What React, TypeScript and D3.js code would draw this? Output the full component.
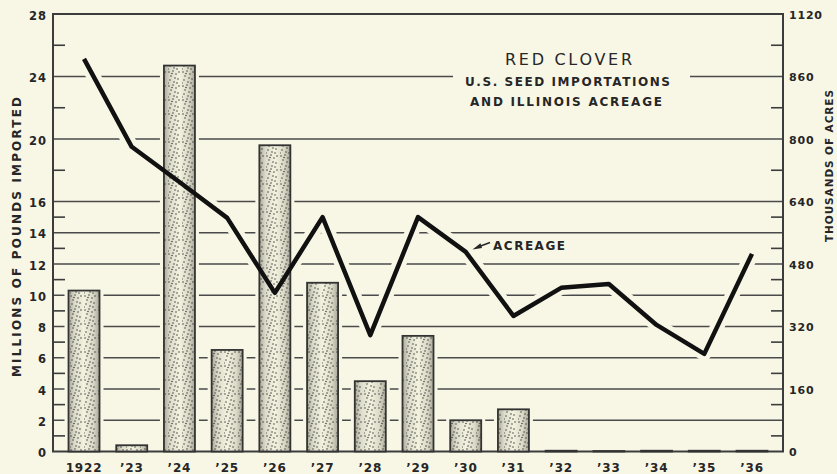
import React from "react";
import * as d3 from "d3";

const years = ["1922", "’23", "’24", "’25", "’26", "’27", "’28", "’29", "’30", "’31", "’32", "’33", "’34", "’35", "’36"];
const importsMlb = [10.3, 0.4, 24.7, 6.5, 19.6, 10.8, 4.5, 7.4, 2.0, 2.7, 0.05, 0.03, 0.05, 0.05, 0.05];
const acreage = [1005, 780, 690, 598, 406, 600, 298, 600, 511, 347, 419, 429, 324, 250, 506];
const leftTickLabels = [0, 2, 4, 6, 8, 10, 12, 14, 16, 20, 24, 28];
const gridValues = [2, 4, 6, 8, 10, 12, 14, 16, 20, 24];
const minorTicks = [1, 3, 5, 7, 9, 11, 13, 15, 18, 22, 26];
const rightTickValues = [0, 160, 320, 480, 640, 800, 960, 1120];
const rightTickLabels = ["0", "160", "320", "480", "640", "800", "860", "1120"];
const titleLines = ["RED CLOVER", "U.S. SEED IMPORTATIONS", "AND ILLINOIS ACREAGE"];

const BG = "#f8f7e6";
const INK = "#262626";
const FONT = "'DejaVu Sans', sans-serif";

// deterministic stipple dot positions within a tile
const dots = [
  [1, 2], [5, 1], [8, 4], [3, 6], [7, 8], [2, 10], [10, 9], [11, 2], [6, 12], [0, 13], [9, 13], [4, 3.5],
];

export default function App() {
  const W = 837, H = 474;
  const left = 53, right = 783, top = 14, bottom = 451.5;
  const x = d3.scalePoint<string>().domain(years).range([left, right]).padding(0.65);
  const y = d3.scaleLinear().domain([0, 28]).range([bottom, top]);
  const yR = d3.scaleLinear().domain([0, 1120]).range([bottom, top]);
  const bw = 31;

  const line = d3
    .line<number>()
    .x((_, i) => x(years[i]) as number)
    .y((d) => yR(d));
  const linePath = line(acreage) || "";

  return (
    <svg width={W} height={H} style={{ display: "block", position: "absolute", left: 0, top: 0, background: BG }}>
      <defs>
        <linearGradient id="barGrad" x1="0" x2="1" y1="0" y2="0">
          <stop offset="0%" stopColor="#aaa999" />
          <stop offset="20%" stopColor="#dddccb" />
          <stop offset="50%" stopColor="#f3f2df" />
          <stop offset="80%" stopColor="#dad9c7" />
          <stop offset="100%" stopColor="#a8a797" />
        </linearGradient>
        <pattern id="stipple" width="14" height="14" patternUnits="userSpaceOnUse">
          {dots.map((d, i) => (
            <circle key={i} cx={d[0]} cy={d[1]} r={0.75} fill="#3a3a3a" />
          ))}
        </pattern>
      </defs>
      <rect x={0} y={0} width={W} height={H} fill={BG} />

      {/* gridlines */}
      {gridValues.map((v) => (
        <line key={"g" + v} x1={left} x2={right} y1={y(v)} y2={y(v)} stroke="#4a4a4a" strokeWidth={1.6} />
      ))}

      {/* title knock-out */}
      <rect x={453} y={44} width={237} height={66} fill={BG} />

      {/* bar halos */}
      {importsMlb.map((v, i) => (
        <rect
          key={"h" + i}
          x={(x(years[i]) as number) - bw / 2}
          y={y(v)}
          width={bw}
          height={bottom - y(v)}
          fill={BG}
          stroke={BG}
          strokeWidth={8}
        />
      ))}

      {/* line halo */}
      <path d={linePath} fill="none" stroke={BG} strokeWidth={14} strokeLinejoin="round" />

      {/* frame */}
      <rect x={left} y={top} width={right - left} height={bottom - top} fill="none" stroke="#3c3c3c" strokeWidth={2} />

      {/* minor ticks */}
      {minorTicks.map((v) => (
        <g key={"m" + v}>
          <line x1={left} x2={left + 12} y1={y(v)} y2={y(v)} stroke="#3c3c3c" strokeWidth={1.6} />
          <line x1={right - 12} x2={right} y1={y(v)} y2={y(v)} stroke="#3c3c3c" strokeWidth={1.6} />
        </g>
      ))}

      {/* bars */}
      {importsMlb.map((v, i) => {
        const bx = (x(years[i]) as number) - bw / 2;
        const by = y(v);
        const bh = bottom - by;
        return (
          <g key={"b" + i}>
            <rect x={bx} y={by} width={bw} height={bh} fill="url(#barGrad)" />
            <rect x={bx} y={by} width={bw} height={bh} fill="url(#stipple)" />
            <rect x={bx} y={by} width={bw} height={bh} fill="none" stroke="#333" strokeWidth={1.8} />
          </g>
        );
      })}

      {/* acreage line */}
      <path d={linePath} fill="none" stroke="#111" strokeWidth={4.5} strokeLinejoin="round" strokeLinecap="butt" />

      {/* left tick labels */}
      {leftTickLabels.map((v) => (
        <text
          key={"lt" + v}
          x={47}
          y={y(v) + 5.5}
          textAnchor="end"
          fontFamily={FONT}
          fontWeight="bold"
          fontSize={11.5}
          letterSpacing={1}
          fill={INK}
        >
          {v}
        </text>
      ))}

      {/* right tick labels */}
      {rightTickValues.map((v, i) => (
        <text
          key={"rt" + v}
          x={789}
          y={yR(v) + 4.5}
          textAnchor="start"
          fontFamily={FONT}
          fontWeight="bold"
          fontSize={11}
          letterSpacing={0.8}
          fill={INK}
        >
          {rightTickLabels[i]}
        </text>
      ))}

      {/* x labels */}
      {years.map((yr) => (
        <text
          key={"x" + yr}
          x={x(yr) as number}
          y={472}
          textAnchor="middle"
          fontFamily={FONT}
          fontWeight="bold"
          fontSize={12}
          letterSpacing={0.8}
          fill={INK}
        >
          {yr}
        </text>
      ))}

      {/* axis titles */}
      <text
        transform="translate(20.5,237) rotate(-90)"
        textAnchor="middle"
        fontFamily={FONT}
        fontWeight="bold"
        fontSize={12}
        textLength={280}
        lengthAdjust="spacing"
        fill={INK}
      >
        MILLIONS OF POUNDS IMPORTED
      </text>
      <text
        transform="translate(832.5,166) rotate(-90)"
        textAnchor="middle"
        fontFamily={FONT}
        fontWeight="bold"
        fontSize={10.5}
        textLength={152}
        lengthAdjust="spacing"
        fill={INK}
      >
        THOUSANDS OF ACRES
      </text>

      {/* title */}
      <text x={505} y={65} fontFamily={FONT} fontSize={16} textLength={127} lengthAdjust="spacing" fill={INK}>
        {titleLines[0]}
      </text>
      <text x={465} y={85.5} fontFamily={FONT} fontWeight="bold" fontSize={12} textLength={205} lengthAdjust="spacing" fill={INK}>
        {titleLines[1]}
      </text>
      <text x={470} y={105.5} fontFamily={FONT} fontWeight="bold" fontSize={12} textLength={192} lengthAdjust="spacing" fill={INK}>
        {titleLines[2]}
      </text>

      {/* acreage label with arrow */}
      <line x1={490} y1={242.5} x2={478} y2={247} stroke={INK} strokeWidth={1.6} />
      <path d="M472.5,249.5 L480.5,243.2 L482,248 Z" fill={INK} />
      <text x={493} y={250} fontFamily={FONT} fontWeight="bold" fontSize={12} textLength={72} lengthAdjust="spacing" fill={INK}>
        ACREAGE
      </text>
    </svg>
  );
}
